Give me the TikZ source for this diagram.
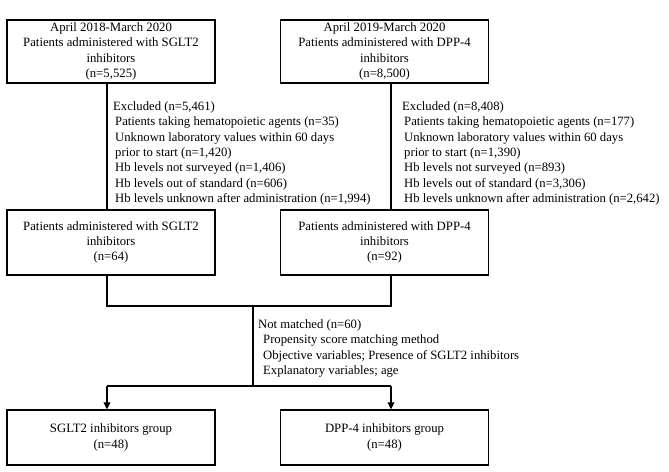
\documentclass[tikz,border=0pt]{standalone}
\usepackage{fontspec}
\setmainfont{Liberation Serif}
\usetikzlibrary{arrows.meta}
\begin{document}
\begin{tikzpicture}[x=1pt,y=-1pt,
  box/.style={draw, line width=1.2pt, minimum width=208pt, minimum height=63pt, inner sep=0pt, align=center, font=\fontsize{12.75}{15.4}\selectfont},
  lowbox/.style={box, minimum height=65pt},
  conn/.style={line width=2.4pt},
  arr/.style={conn, -{Triangle[length=7pt,width=6.5pt]}},
  note/.style={anchor=north west, inner sep=0pt, align=left, font=\fontsize{12.7}{15.3}\selectfont}]
\useasboundingbox[fill=white] (0,0) rectangle (669,471);
\node[box] (b1) at (111,51.5) {April 2018-March 2020\\Patients administered with SGLT2\\inhibitors\\(n=5,525)};
\node[box] (b2) at (384.5,51.5) {April 2019-March 2020\\Patients administered with DPP-4\\inhibitors\\(n=8,500)};
\node[lowbox] (b3) at (111,242.5) {Patients administered with SGLT2\\inhibitors\\(n=64)};
\node[lowbox] (b4) at (384.5,242.5) {Patients administered with DPP-4\\inhibitors\\(n=92)};
\node[box, minimum height=55pt] (b5) at (111,437.5) {SGLT2 inhibitors group\\(n=48)};
\node[box, minimum height=55pt] (b6) at (384.5,437.5) {DPP-4 inhibitors group\\(n=48)};
\coordinate (j1) at (107,306);
\coordinate (j2) at (391,306);
\coordinate (jm) at (253,306);
\coordinate (k1) at (107,386);
\coordinate (k2) at (391,386);
\coordinate (km) at (253,386);
\draw[conn] ([xshift=-4pt]b1.south) -- ([xshift=-4pt]b3.north);
\draw[conn] ([xshift=6.5pt]b2.south) -- ([xshift=6.5pt]b4.north);
\draw[conn] ([xshift=-4pt]b3.south) -- (j1) -- (j2) -- ([xshift=6.5pt]b4.south);
\draw[conn] (jm) -- (km);
\draw[conn] (k1) -- (k2);
\draw[arr] (k1) -- ([xshift=-4pt]b5.north);
\draw[arr] (k2) -- ([xshift=6.5pt]b6.north);
\node[note] (e1) at (113,101.5) {Excluded (n=5,461)\\
\hspace*{2pt}Patients taking hematopoietic agents (n=35)\\
\hspace*{2pt}Unknown laboratory values within 60 days\\
\hspace*{2pt}prior to start (n=1,420)\\
\hspace*{2pt}Hb levels not surveyed (n=1,406)\\
\hspace*{2pt}Hb levels out of standard (n=606)\\
\hspace*{2pt}Hb levels unknown after administration (n=1,994)};
\node[note] (e2) at (402,101.5) {Excluded (n=8,408)\\
\hspace*{2pt}Patients taking hematopoietic agents (n=177)\\
\hspace*{2pt}Unknown laboratory values within 60 days\\
\hspace*{2pt}prior to start (n=1,390)\\
\hspace*{2pt}Hb levels not surveyed (n=893)\\
\hspace*{2pt}Hb levels out of standard (n=3,306)\\
\hspace*{2pt}Hb levels unknown after administration (n=2,642)};
\node[note] (nm) at (258,319.5) {Not matched (n=60)\\
\hspace*{5pt}Propensity score matching method\\
\hspace*{5pt}Objective variables; Presence of SGLT2 inhibitors\\
\hspace*{5pt}Explanatory variables; age};
\end{tikzpicture}
\end{document}
